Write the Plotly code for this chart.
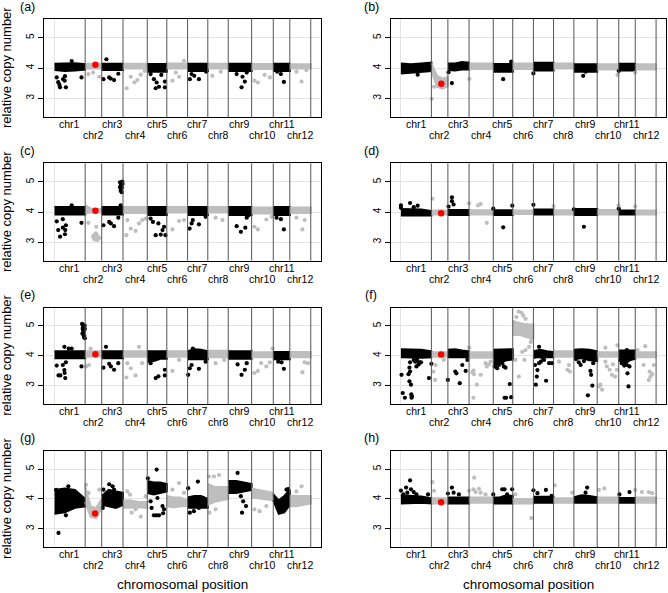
import plotly.graph_objects as go

W, H = 668, 593

chr_names = ["chr%d" % i for i in range(1, 13)]
chr_len_mb = [87, 47, 60.5, 69, 55.5, 59, 57.5, 58, 66.5, 61.5, 47, 59.5]

panel_tags = ["(a)", "(b)", "(c)", "(d)", "(e)", "(f)", "(g)", "(h)"]

# dense band of each chromosome: upper / lower edge of the cloud along the chromosome
hi_a = [[4.14, 4.14, 4.16, 4.13], [4.14], [4.14], [4.14], [4.13], [4.15], [4.14], [4.14], [4.14], [4.13], [4.14], [4.12]]
lo_a = [[3.93, 3.9, 3.92, 3.95], [3.98], [3.93], [3.98], [3.88], [3.98], [3.9], [3.98], [3.9], [3.97], [3.9], [3.98]]
hi_b = [[4.15, 4.12, 4.15, 4.18], [4.15, 3.75, 3.65, 3.7], [4.15, 4.15, 4.2, 4.18], [4.15], [4.13], [4.15], [4.17], [4.15], [4.12], [4.12], [4.14], [4.12]]
lo_b = [[3.82, 3.85, 3.88, 3.9], [3.9, 3.38, 3.32, 3.4], [3.93, 3.92, 3.95, 3.95], [3.97], [3.88], [3.97], [3.92], [3.98], [3.88], [3.95], [3.92], [3.95]]
hi_c = [[4.17], [4.22, 4.12, 4.1, 4.1], [4.17], [4.17], [4.17], [4.17], [4.17], [4.17], [4.17], [4.15], [4.17], [4.15]]
lo_c = [[3.92], [3.95, 3.98, 3.98, 3.98], [3.92], [3.97], [3.9], [3.98], [3.9], [3.98], [3.9], [3.95], [3.9], [3.97]]
hi_d = [[4.1, 4.08, 4.08, 4.03], [4.05], [4.07], [4.06], [4.06], [4.05], [4.08], [4.06], [4.1], [4.07], [4.05], [4.05]]
lo_d = [[3.88], [3.92], [3.9], [3.92], [3.9], [3.93], [3.92], [3.92], [3.9], [3.92], [3.92], [3.92]]
hi_e = [[4.15], [4.15], [4.15], [4.15], [4.15], [4.15], [4.15, 4.22, 4.2, 4.15], [4.17], [4.15], [4.12], [4.13], [4.13]]
lo_e = [[3.92], [3.97], [3.92], [3.97], [3.8, 3.82, 3.9, 3.9], [3.97], [3.88], [3.95], [3.9], [3.95], [3.88], [3.95]]
hi_f = [[4.22, 4.22, 4.2, 4.15], [4.12], [4.2, 4.22, 4.18, 4.15], [4.12], [4.2, 4.2, 4.2, 4.22], [5.15, 5.1, 5.05, 5.05],
        [4.15, 4.2, 4.15, 4.12], [4.15], [4.2, 4.22, 4.2, 4.15], [4.12], [4.18], [4.12]]
lo_f = [[3.95, 3.93, 3.93, 3.95], [3.97], [3.95], [3.93], [3.6, 3.75, 3.85, 3.87], [4.7, 4.7, 4.62, 4.6],
        [3.95], [3.97], [3.9, 3.92, 3.85, 3.82], [3.97], [3.87, 3.7, 3.85, 3.9], [3.95]]
hi_g = [[4.3, 4.35, 4.3, 4.0], [4.4, 3.75, 3.7, 4.0], [4.1, 4.3, 4.25, 4.2], [3.95, 3.95, 3.9, 3.9], [4.6, 4.55, 4.55, 4.5],
        [4.1, 4.05, 4.05, 3.95], [4.05, 4.1, 4.1, 4.0], [4.5, 4.4, 4.4, 4.4], [4.6, 4.6, 4.55, 4.5], [4.35, 4.3, 4.25, 4.2],
        [4.15, 3.95, 4.1, 4.3], [4.1]]
lo_g = [[3.5, 3.55, 3.7, 3.75], [3.9, 3.4, 3.35, 3.7], [3.8, 3.75, 3.7, 3.8], [3.7, 3.7, 3.72, 3.7], [4.2, 4.15, 4.2, 4.25],
        [3.75, 3.72, 3.75, 3.75], [3.7, 3.72, 3.7, 3.7], [3.8, 3.9, 3.95, 4.0], [4.2, 4.2, 4.25, 4.3], [4.05, 4.0, 3.98, 3.95],
        [3.95, 3.5, 3.55, 3.8], [3.75, 3.75, 3.8, 3.85]]
hi_h = [[4.12, 4.1, 4.08, 4.02], [4.02], [4.05], [4.05], [4.05, 4.05, 4.12, 4.1], [4.0], [4.07], [4.02],
        [4.06, 4.12, 4.1, 4.05], [4.05], [4.03], [4.05]]
lo_h = [[3.85, 3.87, 3.87, 3.85], [3.85], [3.85], [3.87], [3.85], [3.85], [3.87], [3.87], [3.87], [3.87], [3.87], [3.87]]

# scattered probes: (chromosome, relative position on chromosome, copy number)
out_a = [(1, .07, 3.69), (1, .12, 3.53), (1, .18, 3.36), (1, .16, 3.44), (1, .28, 3.63), (1, .33, 3.58), (1, .34, 3.73),
         (1, .37, 3.36), (1, .56, 4.23), (1, .88, 3.69), (2, .19, 3.8), (2, .48, 3.85), (2, .85, 3.71),
         (3, .08, 3.63), (3, .22, 4.29), (3, .35, 3.69), (3, .42, 3.65), (3, .58, 3.6), (3, .78, 3.81),
         (4, .15, 3.33), (4, .32, 3.71), (4, .47, 3.52), (4, .59, 3.6), (4, .73, 3.78), (4, .89, 3.9),
         (5, .17, 3.8), (5, .34, 3.63), (5, .43, 3.33), (5, .48, 3.52), (5, .6, 3.38), (5, .72, 3.77), (5, .9, 3.55), (5, .9, 3.36),
         (6, .27, 3.58), (6, .43, 3.85), (6, .59, 3.71), (6, .83, 4.24),
         (7, .11, 3.63), (7, .2, 3.8), (7, .33, 3.74), (7, .56, 3.63), (7, .92, 3.88), (8, .22, 3.74), (8, .63, 3.88),
         (9, .36, 3.8), (9, .57, 3.36), (9, .61, 3.71), (9, .71, 3.55), (9, .79, 3.85),
         (10, .13, 3.58), (10, .29, 3.52), (10, .6, 3.77), (10, .84, 3.69), (11, .24, 3.88), (11, .46, 3.8), (11, .64, 3.54),
         (12, .32, 3.88), (12, .56, 3.55), (12, .79, 3.93)]
out_b = [(1, .13, 3.88), (1, .55, 3.78), (2, .02, 2.98), (2, .16, 3.38), (3, .03, 3.86), (3, .19, 3.5), (4, .01, 3.64),
         (5, .51, 3.63), (5, .92, 4.21), (7, .0, 3.82), (9, .4, 3.74), (9, .5, 3.88), (10, .94, 3.77), (11, .0, 3.9), (12, .0, 3.85)]
out_c = [(1, .07, 3.69), (1, .12, 3.4), (1, .18, 3.18), (1, .27, 3.48), (1, .27, 3.76), (1, .34, 3.26), (1, .35, 3.4),
         (1, .37, 3.56), (1, .56, 4.22), (1, .88, 3.64),
         (2, .19, 3.64), (2, .48, 3.18), (2, .54, 3.23), (2, .56, 3.09), (2, .6, 3.15), (2, .65, 3.29), (2, .67, 3.51),
         (2, .69, 3.12), (2, .73, 3.07), (2, .77, 3.18), (2, .83, 3.13), (2, .62, 3.2), (2, .7, 3.22),
         (3, .08, 3.56), (3, .35, 3.67), (3, .43, 3.62), (3, .58, 3.53), (3, .78, 3.81), (3, .86, 4.99), (3, .89, 4.88),
         (3, .92, 4.77), (3, .95, 4.82), (3, .94, 4.66), (3, .98, 4.93), (3, .89, 4.71), (3, .97, 5.01), (3, .86, 4.82),
         (3, .92, 4.96), (3, .89, 4.22),
         (4, .14, 3.23), (4, .18, 3.73), (4, .32, 3.45), (4, .52, 3.37), (4, .66, 3.62), (4, .79, 3.73), (4, .93, 3.78),
         (5, .17, 3.78), (5, .29, 3.67), (5, .43, 3.23), (5, .57, 3.62), (5, .69, 3.25), (5, .78, 3.4), (5, .86, 3.51), (5, .93, 3.23),
         (6, .27, 3.42), (6, .59, 3.7), (6, .83, 3.73),
         (7, .1, 3.45), (7, .2, 3.62), (7, .26, 3.73), (7, .56, 3.59), (7, .89, 3.84), (8, .38, 3.81), (8, .72, 3.73),
         (9, .36, 3.53), (9, .54, 3.34), (9, .73, 3.48), (9, .79, 3.81), (9, .87, 3.89),
         (10, .13, 3.51), (10, .29, 3.42), (10, .68, 3.75), (10, .92, 3.84), (11, .2, 3.81), (11, .46, 3.76), (11, .64, 3.42),
         (12, .32, 3.81), (12, .6, 3.42), (12, .71, 3.73)]
out_d = [(1, 0, 4.22), (1, 0, 4.14), (1, .3, 4.3), (1, .42, 4.16), (1, .55, 4.21), (2, .06, 4.44), (3, .03, 4.18),
         (3, .19, 4.36), (3, .19, 4.49), (3, .27, 4.25), (4, 0, 4.29), (4, .37, 4.22), (4, .48, 4.27), (4, .73, 3.64),
         (5, 0, 4.11), (5, .51, 3.49), (5, .98, 4.21), (7, 0, 4.24), (8, 0, 4.2), (9, 0, 4.09), (9, .43, 3.51),
         (10, .99, 4.22), (11, 0, 4.11), (12, 0, 4.19)]
out_e = [(1, .07, 3.67), (1, .13, 3.34), (1, .19, 3.34), (1, .27, 3.69), (1, .32, 3.52), (1, .32, 4.3), (1, .33, 3.42),
         (1, .35, 3.25), (1, .37, 3.78), (1, .46, 4.24), (1, .56, 4.24), (1, .88, 3.64), (1, .9, 5.07), (1, .91, 4.74),
         (1, .93, 4.96), (1, .94, 4.85), (1, .95, 4.79), (1, .96, 4.63), (1, .97, 4.68), (1, .98, 5.02), (1, .99, 4.59),
         (1, .99, 4.9), (1, .92, 4.9), (1, .97, 4.98),
         (2, .06, 3.64), (2, .23, 3.69), (2, .33, 4.24),
         (3, .08, 3.6), (3, .2, 4.3), (3, .35, 3.73), (3, .43, 3.64), (3, .58, 3.53), (3, .78, 3.75),
         (4, .14, 3.27), (4, .18, 3.75), (4, .32, 3.58), (4, .52, 3.34), (4, .66, 4.3), (4, .79, 3.75),
         (5, .17, 3.75), (5, .43, 3.25), (5, .57, 3.31), (5, .9, 3.53), (5, .9, 3.34), (6, .27, 3.49), (6, .59, 3.86),
         (7, .03, 3.36), (7, .11, 3.58), (7, .2, 3.69), (7, .26, 4.24), (7, .56, 3.56), (7, .89, 3.8), (8, .38, 3.75), (8, .8, 3.86),
         (9, .4, 3.71), (9, .57, 3.36), (9, .71, 3.53), (9, .79, 3.75),
         (10, .13, 3.42), (10, .29, 3.49), (10, .44, 3.75), (10, .68, 3.64), (10, .84, 3.78), (10, .97, 4.24),
         (11, .3, 3.8), (11, .5, 3.78), (11, .64, 3.56), (12, .6, 3.45), (12, .71, 3.78), (12, .87, 3.75)]
out_f = [(1, .02, 3.36), (1, .06, 2.75), (1, .13, 2.59), (1, .25, 3.38), (1, .28, 3.6), (1, .28, 3.14), (1, .3, 3.47),
         (1, .3, 3.78), (1, .33, 3.03), (1, .34, 2.7), (1, .35, 2.59), (1, .36, 2.64), (1, .42, 3.86), (1, .47, 3.8),
         (1, .51, 3.64), (1, .53, 3.86), (1, .58, 3.71), (1, .61, 3.78), (1, .66, 3.78), (1, .92, 3.25), (1, 1.0, 3.73),
         (2, .12, 3.47), (2, .22, 3.19), (2, .25, 3.69), (2, .75, 3.86),
         (3, .0, 3.19), (3, .35, 3.47), (3, .4, 3.41), (3, .56, 3.08), (3, .68, 3.69), (3, .84, 3.49), (3, .92, 3.86),
         (4, 0, 4.27), (4, .14, 3.45), (4, .18, 3.5), (4, .2, 3.38), (4, .18, 2.59), (4, .32, 3.03), (4, .48, 3.36),
         (4, .68, 3.75), (4, .73, 3.64), (4, .82, 3.71), (4, .89, 3.8),
         (5, .07, 3.64), (5, .12, 3.8), (5, .2, 3.58), (5, .29, 3.69), (5, .46, 3.75), (5, .54, 3.64), (5, .63, 3.6),
         (5, .58, 2.59), (5, .66, 2.59), (5, .85, 3.05), (5, .92, 2.61),
         (6, .05, 5.13), (6, .13, 3.86), (6, .18, 5.3), (6, .29, 5.48), (6, .29, 3.3), (6, .43, 5.44), (6, .46, 4.13),
         (6, .51, 5.35), (6, .57, 3.86), (6, .62, 5.24), (6, .62, 4.19), (6, .7, 5.02), (6, .79, 4.3), (6, .87, 4.46), (6, .9, 4.57),
         (7, .08, 3.97), (7, .08, 3.69), (7, .12, 3.03), (7, .17, 3.3), (7, .2, 3.52), (7, .28, 3.75), (7, .28, 4.3),
         (7, .37, 3.8), (7, .45, 3.93), (7, .53, 3.86), (7, .63, 3.16), (7, .78, 3.75), (7, .93, 3.75),
         (8, .27, 3.8), (8, .68, 3.53), (8, .76, 3.69), (8, .81, 3.47),
         (9, .09, 3.89), (9, .21, 3.78), (9, .29, 3.69), (9, .43, 3.82), (9, .6, 2.67), (9, .71, 3.49), (9, .74, 3.36),
         (9, .79, 3.0), (9, .83, 3.75), (9, .93, 3.97),
         (10, .08, 2.97), (10, .15, 3.03), (10, .23, 2.86), (10, .38, 3.8), (10, .38, 4.27), (10, .45, 3.64), (10, .58, 3.53),
         (10, .68, 3.36), (10, .73, 3.71), (10, .83, 3.3), (10, .91, 3.53), (10, .94, 4.35),
         (11, .08, 3.86), (11, .18, 3.75), (11, .33, 3.67), (11, .49, 3.69), (11, .49, 4.19), (11, .53, 3.41), (11, .59, 2.97), (11, .65, 3.64),
         (12, .11, 4.19), (12, .4, 3.69), (12, .48, 4.32), (12, .65, 3.19), (12, .69, 3.47), (12, .73, 3.3), (12, .81, 3.38), (12, .89, 3.69)]
out_g = [(1, .13, 2.86), (1, .37, 3.45), (1, .05, 4.3), (1, .45, 4.42), (2, .06, 4.47), (2, .85, 4.31), (2, .2, 4.2),
         (3, .05, 3.7), (3, .08, 4.31), (3, .35, 4.49), (3, .51, 4.42), (3, .58, 4.31),
         (4, .18, 4.25), (4, .29, 4.14), (4, .36, 3.54), (4, .52, 3.65), (4, .73, 3.41), (4, .93, 4.09),
         (5, .03, 4.69), (5, .17, 3.92), (5, .22, 3.7), (5, .34, 3.45), (5, .47, 3.45), (5, .48, 4.98), (5, .52, 4.03),
         (5, .6, 3.45), (5, .78, 3.76), (5, .81, 3.52), (5, .86, 3.65),
         (6, .27, 4.31), (6, .59, 4.53), (6, .83, 4.2), (7, .03, 4.36), (7, .11, 3.54), (7, .31, 3.59), (7, .51, 4.58), (7, .56, 3.7),
         (8, .05, 4.75), (8, .08, 3.54), (8, .22, 3.92), (8, .3, 4.75), (8, .38, 3.65), (8, .55, 4.8),
         (9, .4, 4.87), (9, .54, 4.09), (9, .59, 3.54), (9, .64, 3.92), (9, .76, 3.76),
         (10, .13, 3.65), (10, .37, 3.59), (10, .68, 3.76), (11, .8, 4.31), (11, .9, 4.33), (12, .32, 4.25), (12, .56, 4.42)]
out_h = [(1, 0, 4.28), (1, .08, 4.15), (1, .17, 4.38), (1, .21, 4.21), (1, .3, 4.62), (1, .33, 4.32), (1, .42, 4.23),
         (1, .51, 4.15), (1, .89, 4.15), (2, .06, 4.56), (2, .16, 4.27), (3, 0, 4.18), (3, .19, 4.38), (3, .27, 4.21), (3, .52, 4.15),
         (4, 0, 4.27), (4, .18, 4.32), (4, .21, 4.71), (4, .27, 4.23), (4, .41, 4.34), (4, .48, 4.21), (4, .68, 4.15),
         (5, 0, 4.15), (5, .46, 4.32), (5, .58, 4.32), (5, .71, 4.15), (5, .97, 4.32), (6, .13, 4.15), (6, .9, 3.36),
         (7, 0, 4.29), (7, .2, 4.19), (7, .62, 4.3), (7, .9, 4.1), (8, .06, 4.45), (8, .92, 4.21), (9, .5, 4.21), (9, .57, 4.38),
         (10, .08, 4.3), (10, .33, 4.35), (11, .04, 4.15), (11, .65, 4.23), (12, 0, 4.3), (12, .32, 4.23), (12, .65, 4.23), (12, .81, 4.19)]

# highlighted probe on chr2
red_frac = [.62, .6, .62, .59, .62, .59, .6, .59]
red_cn = [4.11, 3.48, 4.04, 3.96, 4.05, 4.04, 3.51, 3.89]

his = [hi_a, hi_b, hi_c, hi_d, hi_e, hi_f, hi_g, hi_h]
los = [lo_a, lo_b, lo_c, lo_d, lo_e, lo_f, lo_g, lo_h]
outs = [out_a, out_b, out_c, out_d, out_e, out_f, out_g, out_h]

starts = []
acc = 0
for L in chr_len_mb:
    starts.append(acc)
    acc += L
total = acc

FONT = "Liberation Sans, Arial, sans-serif"
col_x = [(44.3, 321.0), (390.7, 666.3)]
row_y = [(19, 117), (163.3, 260.7), (307.5, 404), (450.5, 547.3)]

fig = go.Figure()
annotations = []
shapes = []


def edge(ci, vals):
    s, L = starts[ci], chr_len_mb[ci]
    if len(vals) == 1:
        return [s, s + L], [vals[0], vals[0]]
    n = len(vals)
    return [s + L * i / (n - 1) for i in range(n)], list(vals)


for p in range(8):
    k = p + 1
    xa = "x" if k == 1 else "x%d" % k
    ya = "y" if k == 1 else "y%d" % k
    row, col = p // 2, p % 2
    x0, x1 = col_x[col]
    top, bot = row_y[row]

    for ci in range(12):
        hx, hy = edge(ci, his[p][ci])
        lx, ly = edge(ci, los[p][ci])
        c = "#000000" if ci % 2 == 0 else "#bebebe"
        fig.add_trace(go.Scatter(
            x=hx + lx[::-1], y=hy + ly[::-1], fill="toself", fillcolor=c,
            mode="lines", line=dict(color=c, width=2),
            xaxis=xa, yaxis=ya, showlegend=False, hoverinfo="skip"))

    for odd, c in [(True, "#000000"), (False, "#bebebe")]:
        pts = [o for o in outs[p] if (o[0] % 2 == 1) == odd]
        fig.add_trace(go.Scatter(
            x=[starts[o[0] - 1] + o[1] * chr_len_mb[o[0] - 1] for o in pts],
            y=[o[2] for o in pts], mode="markers",
            marker=dict(color=c, size=4.2, line=dict(width=0)),
            xaxis=xa, yaxis=ya, showlegend=False))

    fig.add_trace(go.Scatter(
        x=[starts[1] + red_frac[p] * chr_len_mb[1]], y=[red_cn[p]], mode="markers",
        marker=dict(color="#ff0000", size=6.5, line=dict(width=0)),
        xaxis=xa, yaxis=ya, showlegend=False))

    fig.update_layout(**{
        ("xaxis" if k == 1 else "xaxis%d" % k): dict(
            domain=[x0 / W, x1 / W], anchor=ya, range=[-0.04 * total, 1.04 * total],
            tickvals=[0], showticklabels=False, ticks="", showgrid=True, gridcolor="#e3e3e3",
            gridwidth=1, zeroline=False, showline=True, mirror=True, linecolor="#000000", linewidth=1),
        ("yaxis" if k == 1 else "yaxis%d" % k): dict(
            domain=[1 - bot / H, 1 - top / H], anchor=xa, range=[2.38, 5.62],
            tickvals=[3, 4, 5], ticktext=["3", "4", "5"], tickangle=-90,
            ticks="outside", ticklen=5, tickcolor="#000000", tickwidth=1,
            tickfont=dict(family=FONT, size=10, color="#000000"),
            showgrid=True, gridcolor="#e3e3e3", gridwidth=1, zeroline=False,
            showline=True, mirror=True, linecolor="#000000", linewidth=1),
    })

    for ci in range(12):
        shapes.append(dict(type="line", xref=xa, yref=ya + " domain",
                           x0=starts[ci] + chr_len_mb[ci], x1=starts[ci] + chr_len_mb[ci],
                           y0=0, y1=1, line=dict(color="#555555", width=1)))
        annotations.append(dict(
            x=starts[ci] + chr_len_mb[ci] / 2, xref=xa, y=1 - (bot + (7 if ci % 2 == 0 else 18)) / H,
            yref="paper", text=chr_names[ci], showarrow=False, yanchor="middle",
            font=dict(family=FONT, size=10.5, color="#000000")))

    annotations.append(dict(
        x=(27.5 if col == 0 else 371) / W, y=1 - (top - 12.5) / H, xref="paper", yref="paper",
        text=panel_tags[p], showarrow=False, xanchor="center", yanchor="middle",
        font=dict(family=FONT, size=12.5, color="#000000")))

    if col == 0:
        annotations.append(dict(
            x=7 / W, y=1 - (top + bot) / 2 / H, xref="paper", yref="paper",
            text="relative copy number", textangle=-90, showarrow=False,
            xanchor="center", yanchor="middle",
            font=dict(family=FONT, size=13, color="#000000")))

for col in range(2):
    x0, x1 = col_x[col]
    annotations.append(dict(
        x=(x0 + x1) / 2 / W, y=1 - 584 / H, xref="paper", yref="paper",
        text="chromosomal position", showarrow=False, xanchor="center", yanchor="middle",
        font=dict(family=FONT, size=13.5, color="#000000")))

fig.update_layout(
    width=W, height=H, margin=dict(l=0, r=0, t=0, b=0),
    paper_bgcolor="white", plot_bgcolor="white",
    annotations=annotations, shapes=shapes, hovermode="closest")

fig.write_html("out.html", config={"displayModeBar": False},
               post_script="document.body.style.margin='0';")
